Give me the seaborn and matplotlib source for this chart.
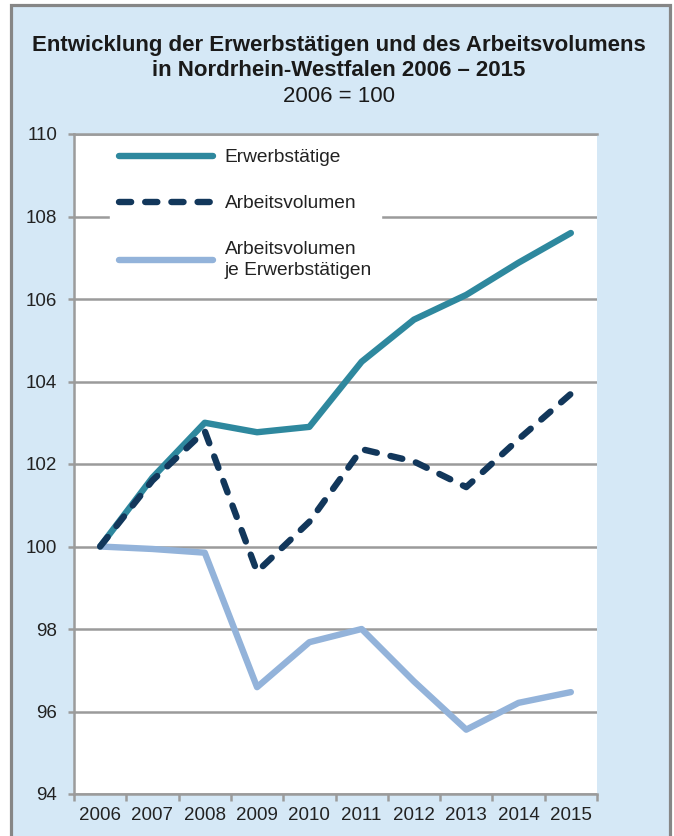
import pandas as pd
import numpy as np
import seaborn as sns
import matplotlib.pyplot as plt
from matplotlib.patches import Rectangle
from matplotlib.ticker import FixedLocator

years = ["2006", "2007", "2008", "2009", "2010", "2011", "2012", "2013", "2014", "2015"]
erwerbstaetige = [100.0, 101.67, 103.0, 102.77, 102.9, 104.48, 105.5, 106.1, 106.88, 107.6]
arbeitsvolumen = [100.0, 101.6, 102.8, 99.39, 100.6, 102.36, 102.06, 101.44, 102.6, 103.7]
je_erwerbst = [100.0, 99.94, 99.85, 96.59, 97.68, 98.0, 96.73, 95.56, 96.21, 96.47]

labels = ["Erwerbstätige", "Arbeitsvolumen", "Arbeitsvolumen\nje Erwerbstätigen"]
colors = ["#2e889e", "#12375b", "#93b3da"]

sns.set_theme(style="white")
plt.rcParams["font.family"] = ["Liberation Sans", "DejaVu Sans"]

fig = plt.figure(figsize=(6.74, 8.36), dpi=100)
fig.patch.set_facecolor("white")
# light blue panel with grey frame
fig.patches.append(Rectangle((10.5 / 674, -0.1), 659 / 674, 1.1 - 5.5 / 836,
                             transform=fig.transFigure, facecolor="#d5e8f6",
                             edgecolor="#868686", linewidth=2.3, zorder=-1))

ax = fig.add_axes([74 / 674, 42 / 836, 523 / 674, 660 / 836])
ax.set_facecolor("white")

grey = "#9b9b9b"
kw = dict(linewidth=4.6, solid_capstyle="round", dash_capstyle="round",
          solid_joinstyle="round", dash_joinstyle="round")
sns.lineplot(x=years, y=erwerbstaetige, ax=ax, color=colors[0], label=labels[0], zorder=3, **kw)
sns.lineplot(x=years, y=arbeitsvolumen, ax=ax, color=colors[1], label=labels[1], zorder=4, **kw)
ax.lines[-1].set_dashes((1.9, 2.2))
sns.lineplot(x=years, y=je_erwerbst, ax=ax, color=colors[2], label=labels[2], zorder=3, **kw)

ax.set_xlim(-0.5, 9.5)
ax.set_ylim(94, 110)
ax.set_yticks(np.arange(94, 111, 2))
ax.yaxis.grid(True, color=grey, linewidth=1.8)
ax.set_axisbelow(True)
ax.set_xlabel("")
ax.set_ylabel("")

for s in ["left", "bottom", "top"]:
    ax.spines[s].set_color(grey)
    ax.spines[s].set_linewidth(1.8)
ax.spines["right"].set_visible(False)

ax.xaxis.set_minor_locator(FixedLocator(np.arange(-0.5, 10, 1)))
ax.tick_params(axis="x", which="major", length=0, pad=9, labelsize=13.5, labelcolor="#222222")
ax.tick_params(axis="x", which="minor", bottom=True, length=5, width=1.8, color=grey)
ax.tick_params(axis="y", left=True, length=4, width=1.8, color=grey, pad=8,
               labelsize=13.5, labelcolor="#222222")

leg = ax.legend(loc="upper left", bbox_to_anchor=(0.068, 0.992), borderaxespad=0,
                fontsize=13.8, frameon=True, facecolor="white", edgecolor="white",
                framealpha=1, fancybox=False, handlelength=4.9, handletextpad=0.6,
                labelspacing=1.5, borderpad=0.5)
leg.set_zorder(2.2)
for t in leg.get_texts():
    t.set_color("#222222")
    t.set_linespacing(1.3)
leg.get_lines()[1].set_dashes((1.9, 2.2))

fig.text(0.503, 1 - 45 / 836, "Entwicklung der Erwerbstätigen und des Arbeitsvolumens",
         ha="center", va="center", fontsize=16, fontweight="bold", color="#1a1a1a")
fig.text(0.503, 1 - 70 / 836, "in Nordrhein-Westfalen 2006 – 2015",
         ha="center", va="center", fontsize=16, fontweight="bold", color="#1a1a1a")
fig.text(0.503, 1 - 96 / 836, "2006 = 100", ha="center", va="center",
         fontsize=16, color="#1a1a1a")

fig.savefig("out.png", dpi=100)
